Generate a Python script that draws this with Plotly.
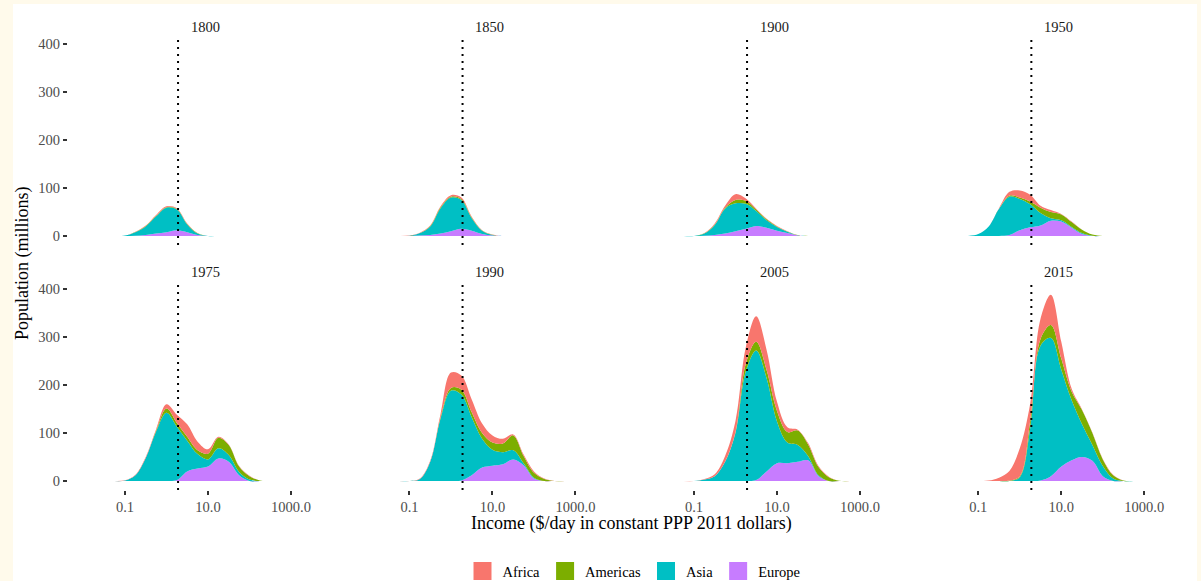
import plotly.graph_objects as go

# ---------------- data ----------------
YEARS = [1800, 1850, 1900, 1950, 1975, 1990, 2005, 2015]
REGIONS = ["Africa", "Americas", "Asia", "Europe"]
COLORS = ["#F8766D", "#7CAE00", "#00BFC4", "#C77CFF"]
INCOME = [0.0562, 0.1, 0.178, 0.316, 0.562, 1.0, 1.78, 3.16, 5.62, 10.0,
          17.8, 31.6, 56.2, 100.0, 178.0, 316.0, 562.0]
POVERTY_LINE = 1.9
X_TICKS = [0.1, 10, 1000]
X_TICK_TEXT = ["0.1", "10.0", "1000.0"]
Y_TICKS = [0, 100, 200, 300, 400]

# population (millions) per region, per income point
EUROPE_1800 = [0, 0, 0.5, 2, 5, 8, 12, 8, 2, 0, 0, 0, 0, 0, 0, 0, 0]
ASIA_1800 = [0, 1, 7.5, 18, 36, 51, 43, 16, 3, 0, 0, 0, 0, 0, 0, 0, 0]
AMERICAS_1800 = [0, 0, 0.5, 1, 1, 1, 1.5, 1, 0.5, 0, 0, 0, 0, 0, 0, 0, 0]
AFRICA_1800 = [0, 0, 0.5, 1, 2, 2, 1.5, 1, 0.5, 0, 0, 0, 0, 0, 0, 0, 0]

EUROPE_1850 = [0, 0, 1, 2, 5, 10, 15, 11, 4, 1, 0, 0, 0, 0, 0, 0, 0]
ASIA_1850 = [0, 0.5, 5, 18, 53, 70, 60, 26, 7, 1, 0, 0, 0, 0, 0, 0, 0]
AMERICAS_1850 = [0, 0, 0.5, 1, 2, 2, 2, 1.5, 0.5, 0.5, 0, 0, 0, 0, 0, 0, 0]
AFRICA_1850 = [0, 0.5, 0.5, 1, 2, 3, 3, 1.5, 0.5, 0.5, 0, 0, 0, 0, 0, 0, 0]

EUROPE_1900 = [0, 0, 0.5, 2, 5, 10, 15, 21, 17, 11, 6, 1, 0, 0, 0, 0, 0]
ASIA_1900 = [0, 0, 4.5, 21, 52, 58, 52, 31, 16, 8, 3, 0.5, 0, 0, 0, 0, 0]
AMERICAS_1900 = [0, 0, 0.5, 1, 2, 7, 6, 3, 2, 1, 0.5, 0.5, 0, 0, 0, 0, 0]
AFRICA_1900 = [0, 0, 0.5, 2, 4, 12, 5, 2, 1, 1, 0.5, 0, 0, 0, 0, 0, 0]

EUROPE_1950 = [0, 0, 0, 0, 2, 12, 18, 22, 32, 30, 17, 4, 0, 0, 0, 0, 0]
ASIA_1950 = [0, 4, 20, 57, 80, 65, 48, 26, 5, 3, 2, 2, 0.5, 0, 0, 0, 0]
AMERICAS_1950 = [0, 0, 0, 0, 2, 3, 6, 11, 13, 12, 10, 7, 2.5, 0, 0, 0, 0]
AFRICA_1950 = [0, 0, 0, 1, 8, 15, 14, 4, 4, 1, 1, 0, 0, 0, 0, 0, 0]

EUROPE_1975 = [0, 0, 0, 0, 0, 0, 2, 20, 26, 30, 47, 40, 12, 0, 0, 0, 0]
ASIA_1975 = [0, 1, 12, 48, 103, 142, 111, 64, 30, 15, 21, 14, 7, 3, 0, 0, 0]
AMERICAS_1975 = [0, 0, 0, 0, 2, 9, 8, 8, 8, 12, 22, 21, 11, 7, 1, 0, 0]
AFRICA_1975 = [0, 0.5, 1, 2, 3, 9, 17, 26, 18, 9, 2, 1, 1, 1, 0, 0, 0]

EUROPE_1990 = [0, 0, 0, 0, 0, 0, 1, 12, 28, 32, 35, 45, 33, 5, 0, 0, 0]
ASIA_1990 = [0, 0, 4, 40, 130, 188, 179, 121, 60, 33, 25, 19, 4, 2, 0, 0, 0]
AMERICAS_1990 = [0, 0, 0, 0, 3, 6, 10, 10, 12, 15, 18, 31, 15, 10, 4, 0, 0]
AFRICA_1990 = [0, 0, 1, 2, 7, 32, 30, 27, 20, 15, 10, 2, 3, 3, 1, 0, 0]

EUROPE_2005 = [0, 0, 0, 0, 0, 0, 0, 2, 20, 37, 37, 40, 43, 10, 0, 0, 0]
ASIA_2005 = [0, 0, 3, 10, 40, 100, 229, 270, 194, 87, 43, 35, 9, 2, 0, 0, 0]
AMERICAS_2005 = [0, 0, 0, 0, 0, 2, 16, 18, 17, 22, 22, 30, 24, 17, 8, 0.5, 0]
AFRICA_2005 = [0, 0, 1, 4, 12, 23, 34, 53, 42, 19, 10, 2, 3, 2, 1, 0, 0]

EUROPE_2015 = [0, 0, 0, 0, 0, 0, 0, 1, 10, 30, 43, 50, 42, 10, 0, 0, 0]
ASIA_2015 = [0, 0, 0, 0, 0, 8, 110, 281, 288, 202, 125, 68, 33, 21, 5, 0, 0]
AMERICAS_2015 = [0, 0, 0, 0, 1, 2, 15, 14, 27, 23, 18, 30, 25, 14, 7, 1, 0]
AFRICA_2015 = [0, 0, 1, 7, 20, 58, 36, 42, 63, 35, 6, 1, 1, 1, 1, 0, 0]

SERIES = {
    1800: [AFRICA_1800, AMERICAS_1800, ASIA_1800, EUROPE_1800],
    1850: [AFRICA_1850, AMERICAS_1850, ASIA_1850, EUROPE_1850],
    1900: [AFRICA_1900, AMERICAS_1900, ASIA_1900, EUROPE_1900],
    1950: [AFRICA_1950, AMERICAS_1950, ASIA_1950, EUROPE_1950],
    1975: [AFRICA_1975, AMERICAS_1975, ASIA_1975, EUROPE_1975],
    1990: [AFRICA_1990, AMERICAS_1990, ASIA_1990, EUROPE_1990],
    2005: [AFRICA_2005, AMERICAS_2005, ASIA_2005, EUROPE_2005],
    2015: [AFRICA_2015, AMERICAS_2015, ASIA_2015, EUROPE_2015],
}

# ---------------- layout geometry (pixels) ----------------
W, H = 1201, 581
COL_LEFT = [68, 352.5, 637, 921.3]
PANEL_W = 274
ROW_TOP = [38, 283]
PANEL_H = 207
X_RANGE = [-2.373, 4.229]      # log10 units
Y_RANGE = [-18.75, 412.5]
FONT = "Liberation Serif, Times New Roman, serif"
CREAM = "#FFFAEB"

fig = go.Figure()
layout = dict(
    width=W, height=H,
    margin=dict(l=0, r=0, t=0, b=0, autoexpand=False),
    paper_bgcolor="white", plot_bgcolor="white",
    font=dict(family=FONT, size=14.5, color="black"),
    showlegend=True,
    template="none",
)
annotations = []
shapes = [
    dict(type="rect", xref="paper", yref="paper", x0=0, x1=13 / W, y0=0, y1=1,
         fillcolor=CREAM, line=dict(width=0), layer="below"),
    dict(type="rect", xref="paper", yref="paper", x0=0, x1=1, y0=1 - 4 / H, y1=1,
         fillcolor=CREAM, line=dict(width=0), layer="below"),
    dict(type="rect", xref="paper", yref="paper", x0=1197 / W, x1=1, y0=0, y1=1,
         fillcolor=CREAM, line=dict(width=0), layer="below"),
]

for i, year in enumerate(YEARS):
    row, col = divmod(i, 4)
    k = i + 1
    xname = "x" if k == 1 else f"x{k}"
    yname = "y" if k == 1 else f"y{k}"
    xl = COL_LEFT[col]
    yt = ROW_TOP[row]
    xdom = [xl / W, (xl + PANEL_W) / W]
    ydom = [1 - (yt + PANEL_H) / H, 1 - yt / H]
    bottom = row == 1
    left = col == 0
    layout["xaxis" if k == 1 else f"xaxis{k}"] = dict(
        type="log", range=X_RANGE, domain=xdom, anchor=yname,
        showgrid=False, zeroline=False, showline=False, automargin=False,
        tickvals=X_TICKS, ticktext=X_TICK_TEXT,
        ticks="outside" if bottom else "", ticklen=4, tickwidth=1.5, tickcolor="#333333",
        showticklabels=bottom, tickfont=dict(size=14.5, color="#4D4D4D", family=FONT),
    )
    layout["yaxis" if k == 1 else f"yaxis{k}"] = dict(
        range=Y_RANGE, domain=ydom, anchor=xname,
        showgrid=False, zeroline=False, showline=False, automargin=False,
        tickvals=Y_TICKS,
        ticks="outside" if left else "", ticklen=4, tickwidth=1.5, tickcolor="#333333",
        showticklabels=left, tickfont=dict(size=14.5, color="#4D4D4D", family=FONT),
    )
    vals = SERIES[year]
    # stack bottom-up: Europe, Asia, Americas, Africa
    for r in [3, 2, 1, 0]:
        fig.add_trace(go.Scatter(
            x=INCOME, y=vals[r], xaxis=xname, yaxis=yname,
            mode="lines", stackgroup=f"s{year}",
            line=dict(width=0, color=COLORS[r], shape="spline", smoothing=1.0),
            fillcolor=COLORS[r], showlegend=False, name=REGIONS[r],
            hoverinfo="skip",
        ))
    fig.add_trace(go.Scatter(
        x=[POVERTY_LINE, POVERTY_LINE], y=Y_RANGE, xaxis=xname, yaxis=yname,
        mode="lines", line=dict(color="black", width=2, dash="2px,5px"),
        showlegend=False, hoverinfo="skip",
    ))
    annotations.append(dict(
        text=str(year), xref="paper", yref="paper",
        x=(xl + PANEL_W / 2) / W, y=1 - (yt - 11) / H,
        xanchor="center", yanchor="middle", showarrow=False,
        font=dict(size=14.5, color="#1A1A1A", family=FONT),
    ))

# legend entries
for r, name in enumerate(REGIONS):
    fig.add_trace(go.Scatter(
        x=[None], y=[None], mode="markers", name=name, legendrank=r + 1,
        marker=dict(symbol="square", size=16, color=COLORS[r],
                    line=dict(width=2, color=COLORS[r])),
        showlegend=True, hoverinfo="skip",
    ))

# axis titles
annotations.append(dict(
    text="Income ($/day in constant PPP 2011 dollars)", xref="paper", yref="paper",
    x=631 / W, y=1 - 523 / H, xanchor="center", yanchor="middle", showarrow=False,
    font=dict(size=18, color="black", family=FONT),
))
annotations.append(dict(
    text="Population (millions)", xref="paper", yref="paper",
    x=22 / W, y=1 - 263 / H, xanchor="center", yanchor="middle", showarrow=False,
    textangle=-90, font=dict(size=18, color="black", family=FONT),
))

layout["annotations"] = annotations
layout["shapes"] = shapes
layout["legend"] = dict(
    orientation="h", x=634 / W, xanchor="center", y=1 - 571 / H, yanchor="middle",
    traceorder="normal",
    font=dict(size=14.5, color="black", family=FONT), bgcolor="rgba(0,0,0,0)",
    itemwidth=30, tracegroupgap=0,
)
fig.update_layout(**layout)
fig.write_html("out.html")
